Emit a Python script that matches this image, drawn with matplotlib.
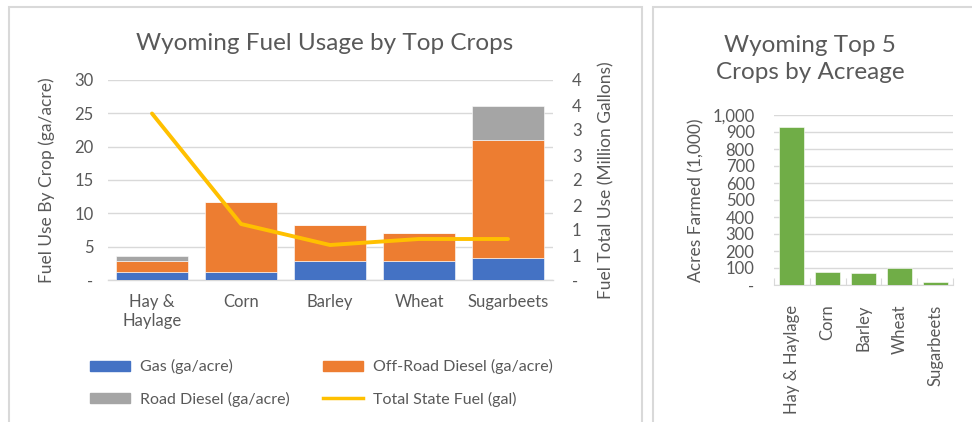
import math
import matplotlib
matplotlib.use("Agg")
import matplotlib.pyplot as plt
from matplotlib.patches import Rectangle, Patch
from matplotlib.lines import Line2D
from matplotlib.ticker import FuncFormatter, MultipleLocator

plt.rcParams['font.family'] = ['Lato', 'DejaVu Sans']

crops = ["Hay &\nHaylage", "Corn", "Barley", "Wheat", "Sugarbeets"]
crops_short = ["Hay & Haylage", "Corn", "Barley", "Wheat", "Sugarbeets"]
gas = [1.2, 1.2, 2.85, 2.85, 3.3]
offroad_diesel = [1.65, 10.55, 5.35, 4.25, 17.75]
road_diesel = [0.7, 0.0, 0.0, 0.0, 5.1]
total_state_fuel = [3.33, 1.12, 0.70, 0.82, 0.82]   # million gallons
acres = [927, 78, 70, 98, 18]                          # thousand acres

TXT = "#595959"
GRID = "#D9D9D9"
C_GAS, C_OFF, C_ROAD = "#4472C4", "#ED7D31", "#A5A5A5"
C_LINE, C_GREEN = "#FFC000", "#70AD47"

W, H = 972, 422
fig = plt.figure(figsize=(W / 100, H / 100), dpi=100)
fig.patch.set_facecolor("white")


def px_axes(x0, y0, x1, y1):
    return fig.add_axes([x0 / W, (H - y1) / H, (x1 - x0) / W, (y1 - y0) / H])


# panel frames
for (x0, x1) in [(8.5, 641.5), (653, 990)]:
    fig.add_artist(Rectangle((x0 / W, -0.1), (x1 - x0) / W, (H - 7) / H + 0.1,
                             transform=fig.transFigure, fill=False,
                             edgecolor="#D9D9D9", linewidth=1.5))

# ---- left chart: stacked fuel use by crop ----
ax = px_axes(107.5, 80, 552.5, 280)
x = list(range(len(crops)))
bw = 0.8
ax.bar(x, gas, bw, color=C_GAS, edgecolor="white", linewidth=0.4, zorder=3)
ax.bar(x, offroad_diesel, bw, bottom=gas, color=C_OFF, edgecolor="white",
       linewidth=0.4, zorder=3)
bottom2 = [g + o for g, o in zip(gas, offroad_diesel)]
ax.bar(x, road_diesel, bw, bottom=bottom2, color=C_ROAD, edgecolor="white",
       linewidth=0.4, zorder=3)
ax.set_xlim(-0.5, len(crops) - 0.5)
ax.set_ylim(0, 30)
ax.yaxis.set_major_locator(MultipleLocator(5))
ax.yaxis.set_major_formatter(FuncFormatter(lambda v, p: "-" if abs(v) < 1e-9 else f"{v:.0f}"))
ax.grid(axis="y", color=GRID, linewidth=1, zorder=0)
ax.set_axisbelow(True)
for s in ["top", "right", "left"]:
    ax.spines[s].set_visible(False)
ax.spines["bottom"].set_color(GRID)
ax.spines["bottom"].set_linewidth(1)
ax.tick_params(axis="both", length=0, labelsize=12, colors=TXT, pad=10)
ax.set_xticks(x)
ax.set_xticklabels(crops, linespacing=1.25)
ax.set_ylabel("Fuel Use By Crop (ga/acre)", fontsize=12.5, color=TXT, labelpad=14)

ax2 = ax.twinx()
ax2.plot(x, total_state_fuel, color=C_LINE, linewidth=2.8, solid_capstyle="round",
         solid_joinstyle="round", zorder=4)
ax2.set_ylim(0, 4)
ax2.yaxis.set_major_locator(MultipleLocator(0.5))
ax2.yaxis.set_major_formatter(FuncFormatter(
    lambda v, p: "-" if abs(v) < 1e-9 else str(int(math.floor(v + 0.5)))))
for s in ax2.spines.values():
    s.set_visible(False)
ax2.tick_params(axis="y", length=0, labelsize=12, colors=TXT, pad=14)
ax2.set_ylabel("Fuel Total Use (Million Gallons)", fontsize=12.5, color=TXT, labelpad=12)

fig.text(325 / W, 1 - 43 / H, "Wyoming Fuel Usage by Top Crops", ha="center",
         va="center", fontsize=17.5, color=TXT)

handles = [Patch(color=C_GAS), Patch(color=C_ROAD), Patch(color=C_OFF),
           Line2D([], [], color=C_LINE, linewidth=2.5)]
labels = ["Gas (ga/acre)", "Road Diesel (ga/acre)", "Off-Road Diesel (ga/acre)",
          "Total State Fuel (gal)"]
fig.legend(handles, labels, ncol=2, loc="center left",
           bbox_to_anchor=(76 / W, 1 - 383 / H), frameon=False, fontsize=11.5,
           labelcolor=TXT, handlelength=2.5, handleheight=0.6, handletextpad=0.6,
           columnspacing=2.1, labelspacing=1.1)

# ---- right chart: acreage ----
axr = px_axes(774, 115, 953, 285)
axr.bar(range(len(crops_short)), acres, 0.7, color=C_GREEN, edgecolor="white",
        linewidth=0.4, zorder=3)
axr.set_xlim(-0.5, len(crops_short) - 0.5)
axr.set_ylim(0, 1000)
axr.yaxis.set_major_locator(MultipleLocator(100))
axr.yaxis.set_major_formatter(FuncFormatter(lambda v, p: "-" if abs(v) < 1e-9 else f"{v:,.0f}"))
axr.grid(axis="y", color=GRID, linewidth=1, zorder=0)
axr.set_axisbelow(True)
for s in ["top", "right", "left"]:
    axr.spines[s].set_visible(False)
axr.spines["bottom"].set_color(GRID)
axr.tick_params(axis="y", length=0, labelsize=12, colors=TXT, pad=14)
axr.set_xticks([i - 0.5 for i in range(len(crops_short) + 1)], minor=False)
axr.set_xticklabels([])
axr.tick_params(axis="x", which="major", length=5, color=GRID, direction="in")
axr.set_xticks(range(len(crops_short)), minor=True)
axr.set_xticklabels(crops_short, minor=True, rotation=90, fontsize=12, color=TXT)
axr.tick_params(axis="x", which="minor", length=0, pad=14)
axr.set_ylabel("Acres Farmed (1,000)", fontsize=12.5, color=TXT, labelpad=6)

fig.text(810 / W, 1 - 59 / H, "Wyoming Top 5\nCrops by Acreage", ha="center",
         va="center", fontsize=17.5, color=TXT, linespacing=1.4)

fig.savefig("out.png", dpi=100, facecolor="white")
